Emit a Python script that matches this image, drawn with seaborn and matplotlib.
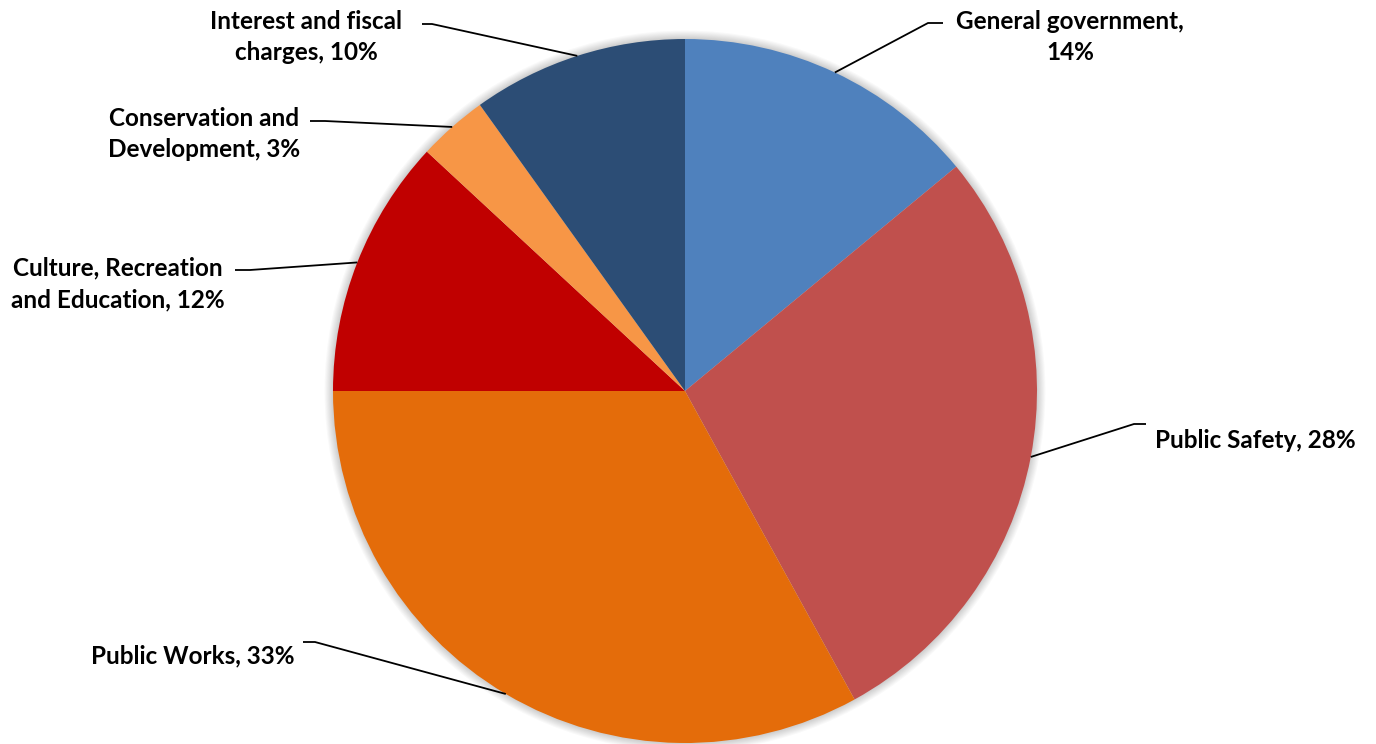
import numpy as np
import matplotlib
matplotlib.use("Agg")
import matplotlib.pyplot as plt
import seaborn as sns

sns.set_theme(style="white")
plt.rcParams['font.family'] = ['Lato', 'DejaVu Sans']

# data
categories = ["General government", "Public Safety", "Public Works",
              "Culture, Recreation\nand Education", "Conservation and\nDevelopment",
              "Interest and fiscal\ncharges"]
shares = [14.0, 28.0, 33.0, 11.9, 3.2, 9.9]
label_text = ["General government,\n14%", "Public Safety, 28%", "Public Works, 33%",
              "Culture, Recreation\nand Education, 12%", "Conservation and\nDevelopment, 3%",
              "Interest and fiscal\ncharges, 10%"]
colors = sns.color_palette(["#4F81BD", "#C0504D", "#E46C0A", "#C00000", "#F79646", "#2C4D75"])

# layout (pixels in the 1376x744 canvas): pie centre / radius, label spots
W, H = 1376, 744
cx, cy, R = 685, 391, 352
label_pos = [(1070, 37), (1255, 440), (193, 656), (118, 284), (204, 134), (306, 37)]
elbow_pos = [(928, 23), (1134, 424), (315, 642), (250, 270), (325, 121), (432, 24)]
elbow_end = [(943, 23), (1146, 424), (303, 642), (235, 270), (310, 121), (422, 24)]


def to_data(p):
    return ((p[0] - cx) / R, (cy - p[1]) / R)


fig = plt.figure(figsize=(13.76, 7.44), dpi=100)
ax = fig.add_axes([0, 0, 1, 1])

# soft shadow round the pie
for k in range(8):
    ax.add_patch(plt.Circle((0, 0), 1 + 0.003 * (k + 1), color="black",
                            alpha=0.025, lw=0, zorder=0))

wedges, _ = ax.pie(shares, colors=colors, startangle=90, counterclock=False,
                   radius=1, center=(0, 0), wedgeprops=dict(linewidth=0))
for w in wedges:
    w.set_zorder(2)

for w, txt, lp, el, ee in zip(wedges, label_text, label_pos, elbow_pos, elbow_end):
    mid = np.deg2rad((w.theta1 + w.theta2) / 2)
    start = (np.cos(mid), np.sin(mid))
    e1 = to_data(el)
    e2 = to_data(ee)
    ax.plot([start[0], e1[0], e2[0]], [start[1], e1[1], e2[1]],
            color="black", lw=1.3, zorder=3, solid_capstyle="butt")
    tx, ty = to_data(lp)
    ax.text(tx, ty, txt, ha="center", va="center", fontsize=17.5,
            fontweight="bold", color="black", linespacing=1.45, zorder=4)

ax.set_xlim(-cx / R, (W - cx) / R)
ax.set_ylim((cy - H) / R, cy / R)
ax.set_aspect("auto")
ax.axis("off")

fig.savefig("out.png", dpi=100, facecolor="white")
